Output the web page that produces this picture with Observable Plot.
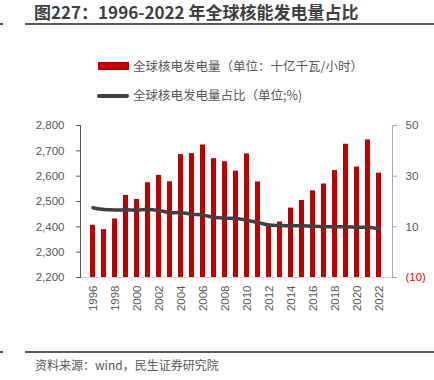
<!DOCTYPE html>
<html><head><meta charset="utf-8">
<script src="https://cdn.jsdelivr.net/npm/d3@7"></script>
<script src="https://cdn.jsdelivr.net/npm/@observablehq/plot@0.6"></script>
<style>
body{margin:0;background:#fff;font-family:"Noto Sans CJK SC","Noto Sans",sans-serif;}
#wrap{position:relative;width:434px;height:380px;overflow:hidden;background:#fff;}
.abs{position:absolute;white-space:nowrap;}
</style></head><body>
<div id="wrap">
  <div class="abs" style="left:34px;top:1px;font-size:17px;font-weight:bold;color:#3f3f3f;line-height:22px;">图227：1996-2022 年全球核能发电量占比</div>
  <div class="abs" style="left:25px;top:23px;width:409px;height:1.5px;background:#595959"></div>
  <div class="abs" style="left:0;top:23px;width:3px;height:1.5px;background:#595959"></div>

  <div class="abs" style="left:98px;top:62px;width:31px;height:8px;background:#C00000"></div>
  <div class="abs" style="left:133px;top:57px;font-size:12.5px;line-height:18px;color:#595959">全球核电发电量（单位：十亿千瓦/小时）</div>
  <div class="abs" style="left:97px;top:94px;width:32px;height:3.5px;border-radius:2px;background:#404040"></div>
  <div class="abs" style="left:133px;top:86px;font-size:12.5px;line-height:18px;color:#595959">全球核电发电量占比（单位;%)</div>

  <div id="chart" class="abs" style="left:0;top:110px"></div>

  <div class="abs" style="left:25px;top:351px;width:409px;height:1.5px;background:#595959"></div>
  <div class="abs" style="left:0;top:351px;width:3px;height:1.5px;background:#595959"></div>
  <div class="abs" style="left:35px;top:356px;font-size:12px;line-height:18px;color:#595959">资料来源：wind，民生证券研究院</div>
</div>
<script>
const years = ["1996","1997","1998","1999","2000","2001","2002","2003","2004","2005","2006","2007","2008","2009","2010","2011","2012","2013","2014","2015","2016","2017","2018","2019","2020","2021","2022"];
const generation = [2406,2389,2431,2524,2508,2574,2603,2578,2685,2689,2723,2669,2657,2620,2688,2577,2402,2419,2474,2504,2542,2569,2622,2726,2636,2743,2612];
const share = [17.5,16.8,16.6,16.7,16.6,16.8,16.4,15.6,15.6,15.0,14.6,13.8,13.4,13.3,12.6,11.7,10.7,10.5,10.4,10.4,10.2,10.1,10.0,10.0,9.8,9.8,9.2];
const leftTicks = [2200,2300,2400,2500,2600,2700,2800];
const rightTicks = [-10,10,30,50];
const xTickYears = ["1996","1998","2000","2002","2004","2006","2008","2010","2012","2014","2016","2018","2020","2022"];

const leftMin = 2200, leftMax = 2800, rightMin = -10, rightMax = 50;
const toLeft = v => leftMin + (v - rightMin) * (leftMax - leftMin) / (rightMax - rightMin);
const toRight = d => rightMin + (d - leftMin) * (rightMax - rightMin) / (leftMax - leftMin);
const rows = years.map((y, i) => ({year: y, gen: generation[i], share: share[i]}));

const W = 434, mL = 80, mR = 42;
const step = (W - mL - mR) / years.length;

const chart = Plot.plot({
  width: W, height: 207,
  marginTop: 15, marginBottom: 40, marginLeft: mL, marginRight: mR,
  style: {fontFamily: "'Liberation Sans', Arial, sans-serif", fontSize: "11.5px", color: "#595959", background: "transparent", overflow: "visible"},
  x: {type: "band", domain: years, paddingInner: 0.54, paddingOuter: 0.27, axis: null},
  y: {domain: [leftMin, leftMax], axis: null},
  marks: [
    Plot.barY(rows, {x: "year", y1: leftMin, y2: "gen", fill: "#C00000"}),
    Plot.ruleY([leftMin], {stroke: "#d9d9d9"}),
    Plot.axisX({ticks: xTickYears, tickSize: 4, stroke: "#d9d9d9", tickFormat: () => "", dx: -step / 2, label: null}),
    Plot.axisX({ticks: xTickYears, tickSize: 0, tickRotate: -90, tickPadding: 8, fill: "#595959", label: null}),
    Plot.line(rows, {x: "year", y: d => toLeft(d.share), stroke: "#404040", strokeWidth: 3.5, curve: "catmull-rom"}),
    Plot.axisY({ticks: leftTicks, tickFormat: d3.format(","), tickSize: 4, tickPadding: 12, stroke: "#595959", fill: "#595959", label: null}),
    Plot.frame({anchor: "left", stroke: "#595959"}),
    Plot.axisY({anchor: "right", ticks: rightTicks.filter(v => v >= 0).map(toLeft), tickFormat: d => String(Math.round(toRight(d))), tickSize: 4, tickPadding: 9, stroke: "#8faadc", fill: "#595959", label: null}),
    Plot.axisY({anchor: "right", ticks: rightTicks.filter(v => v < 0).map(toLeft), tickFormat: d => "(" + Math.abs(Math.round(toRight(d))) + ")", tickSize: 4, tickPadding: 9, stroke: "#8faadc", fill: "#ff0000", label: null}),
    Plot.frame({anchor: "right", stroke: "#8faadc"})
  ]
});
document.getElementById("chart").appendChild(chart);
</script>
</body></html>
